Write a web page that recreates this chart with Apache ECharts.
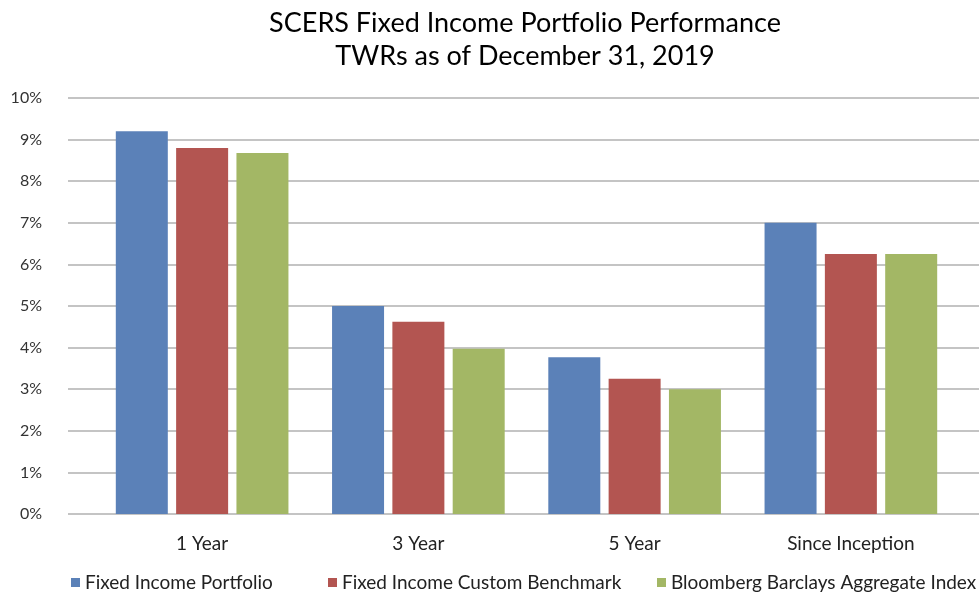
<!DOCTYPE html>
<html lang="en">
<head>
    <meta charset="UTF-8">
    <title>SCERS Fixed Income Portfolio Performance</title>
    <script src="https://cdn.jsdelivr.net/npm/echarts@6/dist/echarts.min.js"></script>
</head>
<body style="margin:0">
    <div id="main" style="width: 979px;height: 594px"></div>
    <script>
        // data (percent)
        var categories = ['1 Year', '3 Year', '5 Year', 'Since Inception'];
        var seriesNames = ['Fixed Income Portfolio', 'Fixed Income Custom Benchmark', 'Bloomberg Barclays Aggregate Index'];
        var portfolio = [9.2, 5.0, 3.77, 7.0];
        var benchmark = [8.8, 4.62, 3.25, 6.25];
        var aggregate = [8.68, 3.97, 3.0, 6.25];
        var colors = ['#5b81b8', '#b35551', '#a3b765'];

        var mCharts = echarts.init(document.getElementById('main'));
        var font = 'Lato';
        // one legend per item so the uneven spacing can be matched
        var legendLeft = [66, 323, 652];
        var legends = seriesNames.map(function (n, i) {
            return {
                top: 568, left: legendLeft[i],
                itemWidth: 9, itemHeight: 9, itemGap: 10,
                icon: 'rect',
                textStyle: {fontFamily: font, fontSize: 19, color: '#222'},
                data: [n]
            };
        });
        var option = {
            title: {
                text: 'SCERS Fixed Income Portfolio Performance\nTWRs as of December 31, 2019',
                left: 520, top: 2, textAlign: 'center',
                textStyle: {fontFamily: font, fontSize: 27, fontWeight: 'normal', color: '#000', lineHeight: 33}
            },
            legend: legends,
            color: colors,
            grid: [
                // grid for the gridlines (full width)
                {left: 68, right: 0, top: 98, bottom: 80},
                // grid for the bars
                {left: 94, right: 20, top: 98, bottom: 80}
            ],
            xAxis: [
                {gridIndex: 0, type: 'category', data: categories, show: false},
                {
                    gridIndex: 1, type: 'category', data: categories,
                    axisLine: {show: false}, axisTick: {show: false},
                    axisLabel: {fontFamily: font, fontSize: 19, color: '#222', margin: 20}
                }
            ],
            yAxis: [
                {
                    gridIndex: 0, type: 'value', min: 0, max: 10, interval: 1,
                    axisLabel: {formatter: '{value}%', fontFamily: font, fontSize: 16, color: '#333', margin: 26},
                    splitLine: {lineStyle: {color: '#c4c4c4', width: 2}},
                    axisLine: {show: false}, axisTick: {show: false}
                },
                {gridIndex: 1, type: 'value', min: 0, max: 10, interval: 1, show: false, splitLine: {show: false}}
            ],
            series: [
                {name: seriesNames[0], type: 'bar', xAxisIndex: 1, yAxisIndex: 1, data: portfolio, barWidth: 52, barGap: '16%'},
                {name: seriesNames[1], type: 'bar', xAxisIndex: 1, yAxisIndex: 1, data: benchmark, barWidth: 52, barGap: '16%'},
                {name: seriesNames[2], type: 'bar', xAxisIndex: 1, yAxisIndex: 1, data: aggregate, barWidth: 52, barGap: '16%'}
            ]
        };
        mCharts.setOption(option);
    </script>
</body>
</html>
